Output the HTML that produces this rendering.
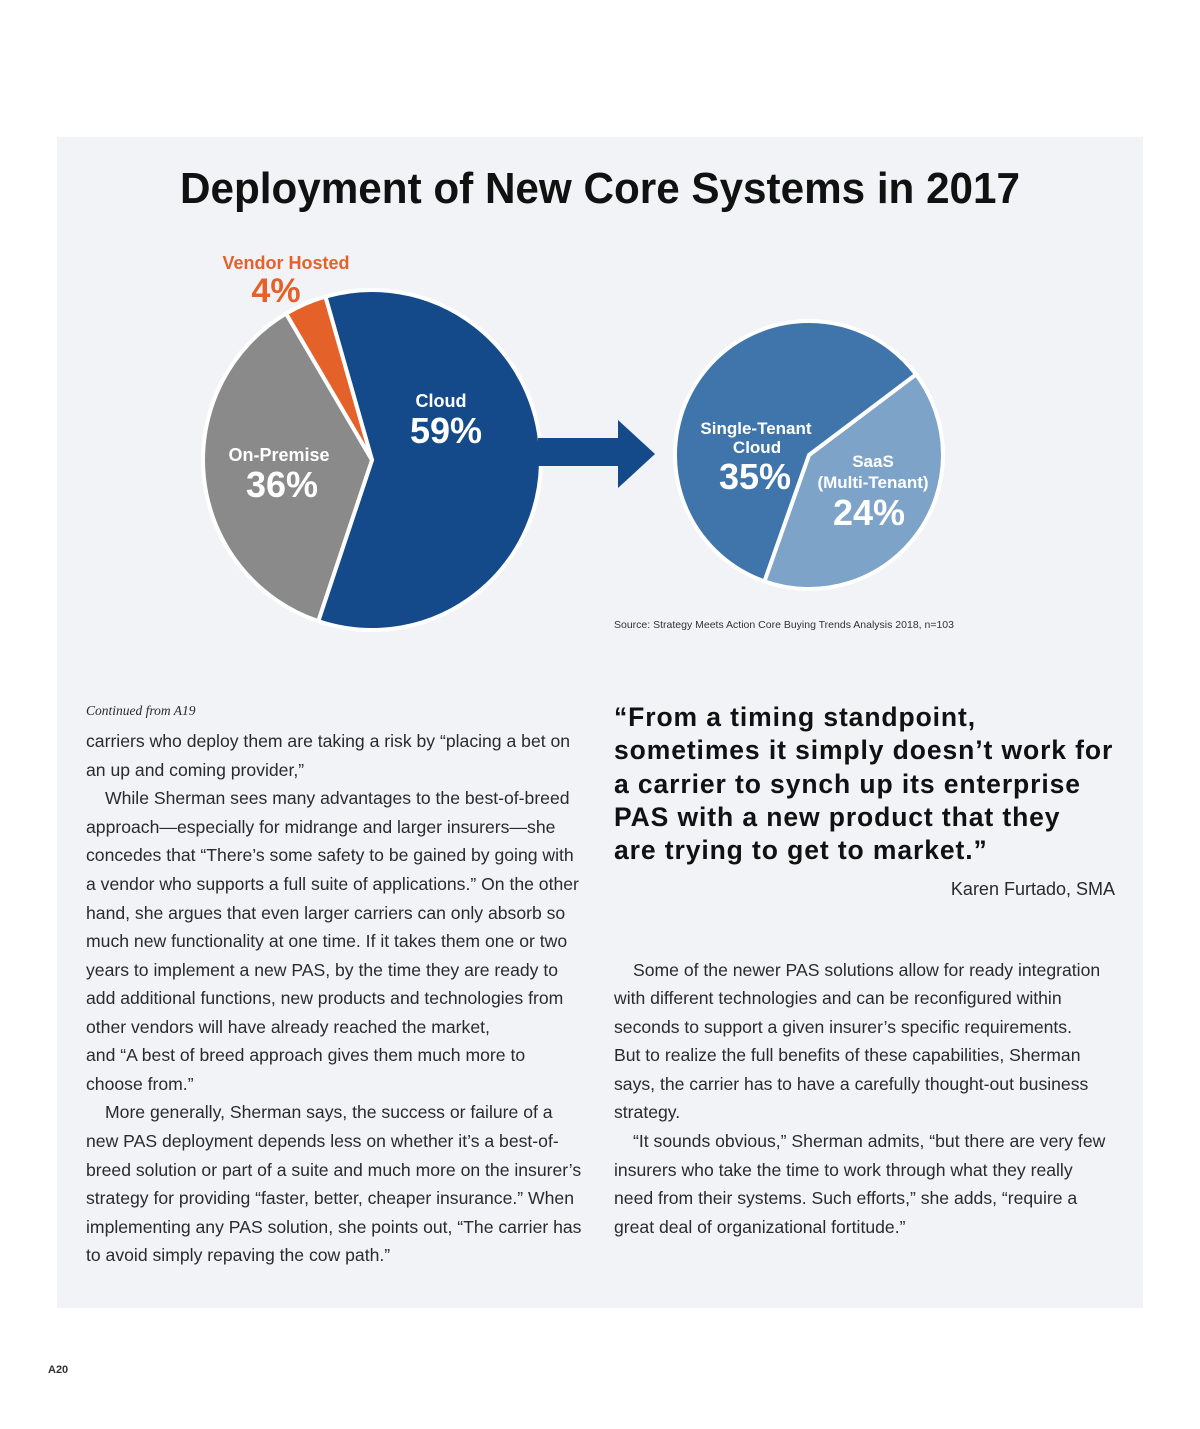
<!DOCTYPE html>
<html><head><meta charset="utf-8"><style>
html,body{margin:0;padding:0;background:#fff;}
#wrap{position:relative;width:1200px;height:1429px;overflow:hidden;background:#fff;font-family:"Liberation Sans",sans-serif;}
#panel{position:absolute;left:57px;top:137px;width:1086px;height:1171px;background:#f2f3f7;}
.ln{position:absolute;white-space:nowrap;font-size:17.6px;color:#2a2a2a;line-height:20px;}
.q{position:absolute;white-space:nowrap;font-size:26.5px;font-weight:bold;color:#111;line-height:30px;letter-spacing:0.9px;}
</style></head><body>
<div id="wrap">
<div id="panel"></div>
<svg id="chart" width="1200" height="1429" style="position:absolute;left:0;top:0">
<text x="600" y="203" text-anchor="middle" font-family="Liberation Sans" font-weight="bold" font-size="44" textLength="840" lengthAdjust="spacingAndGlyphs" fill="#111">Deployment of New Core Systems in 2017</text>
<g id="pie1"></g>
<g id="pie2"></g>
<g><polygon points="538,438 618,438 618,420 655,454 618,488 618,466 538,466" fill="#154a8a"/></g>
<g font-family="Liberation Sans" font-weight="bold" text-anchor="middle">
<text x="286" y="269" font-size="18" fill="#e4612a">Vendor Hosted</text>
<text x="276" y="302" font-size="34" fill="#e4612a">4%</text>
<text x="441" y="407" font-size="18" fill="#fff">Cloud</text>
<text x="446" y="443" font-size="36" fill="#fff">59%</text>
<text x="279" y="461" font-size="18" fill="#fff">On-Premise</text>
<text x="282" y="497" font-size="36" fill="#fff">36%</text>
<text x="756" y="434" font-size="17" fill="#fff">Single-Tenant</text>
<text x="757" y="453" font-size="17" fill="#fff">Cloud</text>
<text x="755" y="489" font-size="36" fill="#fff">35%</text>
<text x="873" y="467" font-size="17" fill="#fff">SaaS</text>
<text x="873" y="488" font-size="17" fill="#fff">(Multi-Tenant)</text>
<text x="869" y="525" font-size="36" fill="#fff">24%</text>
</g>
<text x="614" y="628" font-family="Liberation Sans" font-size="10.5" fill="#333" textLength="340" lengthAdjust="spacingAndGlyphs">Source: Strategy Meets Action Core Buying Trends Analysis 2018, n=103</text>
</svg>
<script>
const cats1=["Cloud","On-Premise","Vendor Hosted"];
const vals1=[59,36,4];
const cols1=["#154a8a","#8a8a8a","#e4612a"];
const cats2=["SaaS (Multi-Tenant)","Single-Tenant Cloud"];
const vals2=[24,35];
const cols2=["#7ea3c8","#3f75aa"];
function drawPie(gid,cats,vals,cols,cx,cy,rx,ry,startDeg){
  const g=document.getElementById(gid);
  const tot=vals.reduce((a,b)=>a+b,0);
  let a=startDeg;
  vals.forEach((v,i)=>{
    const s=a, e=a+v/tot*360; a=e;
    const p=d=>[cx+rx*Math.sin(d*Math.PI/180), cy-ry*Math.cos(d*Math.PI/180)];
    const [x1,y1]=p(s),[x2,y2]=p(e);
    const large=(e-s)>180?1:0;
    const path=document.createElementNS("http://www.w3.org/2000/svg","path");
    path.setAttribute("d",`M${cx},${cy} L${x1},${y1} A${rx},${ry} 0 ${large} 1 ${x2},${y2} Z`);
    path.setAttribute("fill",cols[i]);
    path.setAttribute("stroke","#fff");
    path.setAttribute("stroke-width","4");
    path.setAttribute("stroke-linejoin","miter");
    
    
    g.appendChild(path);
  });
}
drawPie("pie1",cats1,vals1,cols1,372,460,169,170,-16);
drawPie("pie2",cats2,vals2,cols2,809,455,134,134,53);
</script>
<div>
<div class="ln" style="left:86px;top:701px;font-family:'Liberation Serif',serif;font-style:italic;font-size:13.5px">Continued from A19</div>
<div>
<div class="ln" style="left:86px;top:731px">carriers who deploy them are taking a risk by “placing a bet on</div>
<div class="ln" style="left:86px;top:760px">an up and coming provider,”</div>
<div class="ln" style="left:105px;top:788px">While Sherman sees many advantages to the best-of-breed</div>
<div class="ln" style="left:86px;top:817px">approach—especially for midrange and larger insurers—she</div>
<div class="ln" style="left:86px;top:845px">concedes that “There’s some safety to be gained by going with</div>
<div class="ln" style="left:86px;top:874px">a vendor who supports a full suite of applications.” On the other</div>
<div class="ln" style="left:86px;top:903px">hand, she argues that even larger carriers can only absorb so</div>
<div class="ln" style="left:86px;top:931px">much new functionality at one time. If it takes them one or two</div>
<div class="ln" style="left:86px;top:960px">years to implement a new PAS, by the time they are ready to</div>
<div class="ln" style="left:86px;top:988px">add additional functions, new products and technologies from</div>
<div class="ln" style="left:86px;top:1017px">other vendors will have already reached the market,</div>
<div class="ln" style="left:86px;top:1045px">and “A best of breed approach gives them much more to</div>
<div class="ln" style="left:86px;top:1074px">choose from.”</div>
<div class="ln" style="left:105px;top:1102px">More generally, Sherman says, the success or failure of a</div>
<div class="ln" style="left:86px;top:1131px">new PAS deployment depends less on whether it’s a best-of-</div>
<div class="ln" style="left:86px;top:1160px">breed solution or part of a suite and much more on the insurer’s</div>
<div class="ln" style="left:86px;top:1188px">strategy for providing “faster, better, cheaper insurance.” When</div>
<div class="ln" style="left:86px;top:1217px">implementing any PAS solution, she points out, “The carrier has</div>
<div class="ln" style="left:86px;top:1245px">to avoid simply repaving the cow path.”</div>
</div>
<div>
<div class="q" style="left:614px;top:702px">“From a timing standpoint,</div>
<div class="q" style="left:614px;top:735px">sometimes it simply doesn’t work for</div>
<div class="q" style="left:614px;top:769px">a carrier to synch up its enterprise</div>
<div class="q" style="left:614px;top:802px">PAS with a new product that they</div>
<div class="q" style="left:614px;top:835px">are trying to get to market.”</div>
<div class="ln" style="right:85px;top:879px;font-size:18px">Karen Furtado, SMA</div>
</div>
<div>
<div class="ln" style="left:633px;top:960px">Some of the newer PAS solutions allow for ready integration</div>
<div class="ln" style="left:614px;top:988px">with different technologies and can be reconfigured within</div>
<div class="ln" style="left:614px;top:1017px">seconds to support a given insurer’s specific requirements.</div>
<div class="ln" style="left:614px;top:1045px">But to realize the full benefits of these capabilities, Sherman</div>
<div class="ln" style="left:614px;top:1074px">says, the carrier has to have a carefully thought-out business</div>
<div class="ln" style="left:614px;top:1102px">strategy.</div>
<div class="ln" style="left:633px;top:1131px">“It sounds obvious,” Sherman admits, “but there are very few</div>
<div class="ln" style="left:614px;top:1160px">insurers who take the time to work through what they really</div>
<div class="ln" style="left:614px;top:1188px">need from their systems. Such efforts,” she adds, “require a</div>
<div class="ln" style="left:614px;top:1217px">great deal of organizational fortitude.”</div>
</div>
</div>
<div class="ln" style="left:48px;top:1360px;font-size:11px;font-weight:bold;color:#333">A20</div>
</div>
</body></html>
